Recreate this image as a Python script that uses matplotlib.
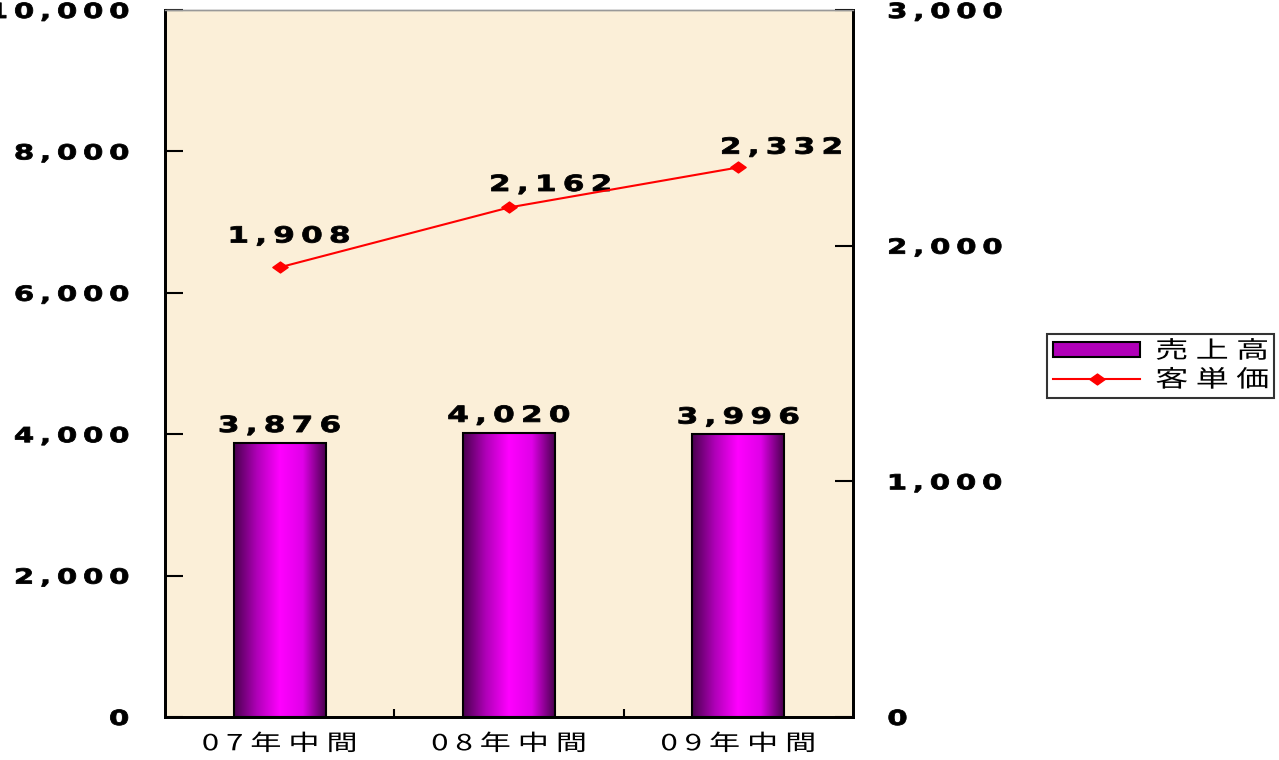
import matplotlib.pyplot as plt
import numpy as np
from matplotlib.colors import LinearSegmentedColormap
from matplotlib.patches import Patch
from matplotlib.path import Path
from matplotlib.patheffects import AbstractPathEffect
from matplotlib.transforms import Affine2D

categories = ["07年中間", "08年中間", "09年中間"]
sales = [3876, 4020, 3996]          # 売上高 (left axis)
unit_price = [1908, 2162, 2332]     # 客単価 (right axis)
left_ticks = [0, 2000, 4000, 6000, 8000, 10000]
right_ticks = [0, 1000, 2000, 3000]

# hand placed label offsets of the line labels (points)
price_label_offsets = [(7, 15), (30, 9), (31, 7)]

plt.rcParams["font.family"] = ["Noto Sans CJK JP", "DejaVu Sans"]


class StretchX(AbstractPathEffect):
    """Draw text wider (and a bit heavier) than the font, like the original."""

    def __init__(self, sx, ha, stroke=0.0):
        super().__init__()
        self.sx = sx
        self.ha = ha
        self.stroke = stroke

    def draw_path(self, renderer, gc, tpath, affine, rgbFace=None):
        ext = tpath.get_extents(affine)
        anchor = {"left": ext.x0, "right": ext.x1}.get(self.ha, (ext.x0 + ext.x1) / 2)
        t = affine + Affine2D().translate(-anchor, 0).scale(self.sx, 1).translate(anchor, 0)
        gc0 = renderer.new_gc()
        gc0.copy_properties(gc)
        if self.stroke and rgbFace is not None:
            gc0.set_linewidth(self.stroke)
            gc0.set_foreground(rgbFace)
        renderer.draw_path(gc0, tpath, t, rgbFace)
        gc0.restore()


def spaced(s, sep="\u2009"):
    return sep.join(s)


SX = 1.4

fig = plt.figure(figsize=(12.79, 7.6), dpi=100)
ax = fig.add_axes([165 / 1279, 1 - 717 / 760, 688 / 1279, 707 / 760])
ax2 = ax.twinx()
ax.set_facecolor("#fbefd8")

x = np.arange(len(categories))
width = 0.4

# gradient bars: dark purple edges, magenta center
cmap = LinearSegmentedColormap.from_list(
    "bar", ["#4a004f", "#b000b8", "#ff00ff", "#e000e8", "#4a004f"])
grad = np.linspace(0, 1, 256).reshape(1, -1)
bars = ax.bar(x, sales, width, color="none", edgecolor="black", linewidth=1.5, zorder=3)
for b in bars:
    x0, y0 = b.get_x(), b.get_y()
    w, h = b.get_width(), b.get_height()
    im = ax.imshow(grad, cmap=cmap, aspect="auto", extent=[x0, x0 + w, y0, y0 + h],
                   zorder=2)
    im.set_clip_path(b)
ax.set_xlim(-0.5, len(categories) - 0.5)
ax.set_ylim(0, 10000)
ax2.set_ylim(0, 3000)

for xi, v in zip(x, sales):
    ax.annotate(spaced(f"{v:,}"), (xi, v), xytext=(0, 5), textcoords="offset points",
                ha="center", va="bottom", fontsize=16, fontweight="bold",
                family="DejaVu Sans", zorder=5,
                path_effects=[StretchX(SX, "center", 0.6)])

diamond = Path([(-1.4, 0), (0, 1), (1.4, 0), (0, -1), (-1.4, 0)],
               [Path.MOVETO, Path.LINETO, Path.LINETO, Path.LINETO, Path.CLOSEPOLY])
ax2.plot(x, unit_price, color="red", linewidth=1.5, marker=diamond,
         markersize=11, markerfacecolor="red", markeredgecolor="red", zorder=4)
for xi, v, off in zip(x, unit_price, price_label_offsets):
    ax2.annotate(spaced(f"{v:,}"), (xi, v), xytext=off, textcoords="offset points",
                 ha="center", va="bottom", fontsize=16, fontweight="bold",
                 family="DejaVu Sans", path_effects=[StretchX(SX, "center", 0.6)])

ax.set_xticks(x)
ax.set_xticklabels([spaced(c, " ") for c in categories], fontsize=16,
                   path_effects=[StretchX(SX, "center")])
ax.set_xticks(np.arange(len(categories) - 1) + 0.5, minor=True)
ax.tick_params(axis="x", which="major", length=0, pad=11)
ax.tick_params(axis="x", which="minor", direction="in", length=6, width=1.5)

ax.set_yticks(left_ticks)
ax.set_yticklabels([spaced(f"{t:,}") for t in left_ticks], fontsize=15,
                   fontweight="bold", family="DejaVu Sans",
                   path_effects=[StretchX(SX, "right", 0.6)])
ax.tick_params(axis="y", direction="in", length=13, width=1.5, pad=26)

ax2.set_yticks(right_ticks)
ax2.set_yticklabels([spaced(f"{t:,}") for t in right_ticks], fontsize=15,
                    fontweight="bold", family="DejaVu Sans",
                    path_effects=[StretchX(SX, "left", 0.6)])
ax2.tick_params(axis="y", direction="in", length=13, width=1.5, pad=25)

for a in (ax, ax2):
    a.spines["left"].set_linewidth(2)
    a.spines["right"].set_linewidth(2)
    a.spines["bottom"].set_linewidth(2)
    a.spines["top"].set_linewidth(1)
    a.spines["top"].set_color("#999999")

bar_handle = Patch(facecolor="#b000b8", edgecolor="black", linewidth=1.5)
leg = fig.legend([bar_handle, ax2.lines[0]],
                 [spaced("売上高", " ") + "      ", spaced("客単価", " ") + "      "],
                 loc="upper left", bbox_to_anchor=(1047 / 1279, 1 - 334 / 760),
                 fontsize=17, frameon=True, fancybox=False, edgecolor="black",
                 handlelength=3.7, handleheight=0.55, borderpad=0.25,
                 labelspacing=0.25, handletextpad=0.65, borderaxespad=0)
leg.get_frame().set_linewidth(1.5)
for t in leg.get_texts():
    t.set_path_effects([StretchX(SX, "left")])

fig.savefig("out.png", dpi=100)
